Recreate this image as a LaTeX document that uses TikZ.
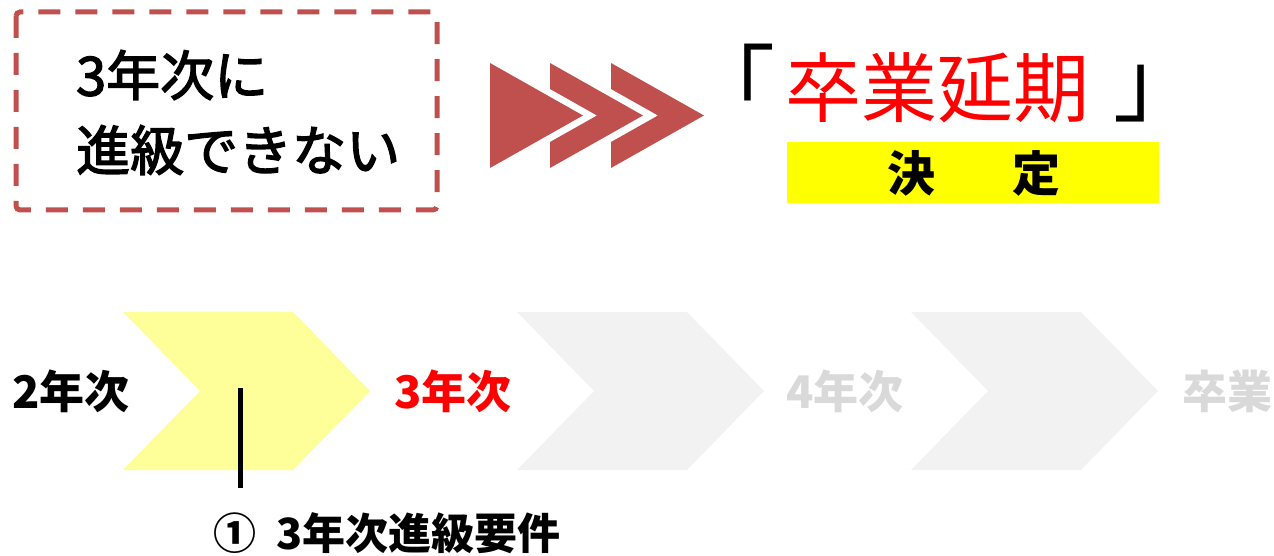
\documentclass[tikz,border=0pt]{standalone}
\usepackage{fontspec}
\setmainfont{Noto Sans CJK JP}
\newfontfamily\jpmed{Noto Sans CJK JP}[FakeBold=2.5]
\definecolor{darkred}{HTML}{C0504D}
\definecolor{lightyellow}{HTML}{FFFF99}
\definecolor{lightgray}{HTML}{F2F2F2}
\definecolor{textgray}{HTML}{D9D9D9}
\definecolor{brightyellow}{HTML}{FFFF00}
\definecolor{brightred}{HTML}{FF0000}
\tikzset{
  boxtext/.style={inner sep=0pt, anchor=west, font=\jpmed\fontsize{54}{60}\selectfont},
  bigtext/.style={inner sep=0pt, font=\fontsize{76}{84}\selectfont},
  brackettext/.style={inner sep=0pt, font=\fontsize{88}{96}\selectfont},
  decision/.style={inner sep=0pt, font=\fontsize{48}{56}\selectfont\bfseries},
  yearlabel/.style={inner sep=0pt, anchor=west, font=\fontsize{45}{50}\selectfont\bfseries},
  chevfill/.style={fill=darkred, draw=none},
}
\begin{document}
\begin{tikzpicture}[x=1pt,y=-1pt]
\useasboundingbox (0,0) rectangle (1274,556);
% dashed box
\draw[draw=darkred, line width=5pt, dash pattern=on 22pt off 15pt, rounded corners=4pt] (16,12) rectangle (437,210);
\node[boxtext] (l1) at (76,75) {3年次に};
\node[boxtext] (l2) at (76,150) {進級できない};
% red chevrons
\fill[chevfill] (490,63) -- (583,115.5) -- (490,168) -- cycle;
\fill[chevfill] (550,63) -- (643,115.5) -- (550,168) -- (550,142) -- (597,115.5) -- (550,89) -- cycle;
\fill[chevfill] (611,63) -- (704,115.5) -- (611,168) -- (611,142) -- (658,115.5) -- (611,89) -- cycle;
% result
\node[brackettext] (lb) at (731.5,81.5) {「};
\node[bigtext, text=brightred] (res) at (937,88) {卒業延期};
\node[brackettext] (rb) at (1157,94) {」};
\fill[brightyellow] (787,142) rectangle (1159,203);
\node[decision] (d1) at (911,173) {決};
\node[decision] (d2) at (1036,173) {定};
% bottom chevrons
\fill[lightyellow] (123,312) -- (293,312) -- (370,391) -- (293,470) -- (123,470) -- (200,391) -- cycle;
\fill[lightgray] (517,312) -- (687,312) -- (764,391) -- (687,470) -- (517,470) -- (594,391) -- cycle;
\fill[lightgray] (911,312) -- (1081,312) -- (1158,391) -- (1081,470) -- (911,470) -- (988,391) -- cycle;
\node[yearlabel] (y2) at (12,391) {2年次};
\node[yearlabel, text=brightred] (y3) at (394,391) {3年次};
\node[yearlabel, text=textgray] (y4) at (786,391) {4年次};
\node[yearlabel, text=textgray] (gr) at (1182,391) {卒業};
\node[inner sep=0pt, anchor=north west, font=\fontsize{43}{50}\selectfont\bfseries] (req) at (213,512) {①\hspace{20pt}3年次進級要件};
\coordinate (ctop) at (240,388);
\coordinate (cbot) at (240,488);
\draw[line width=5pt] (ctop) -- (cbot);
\end{tikzpicture}
\end{document}
